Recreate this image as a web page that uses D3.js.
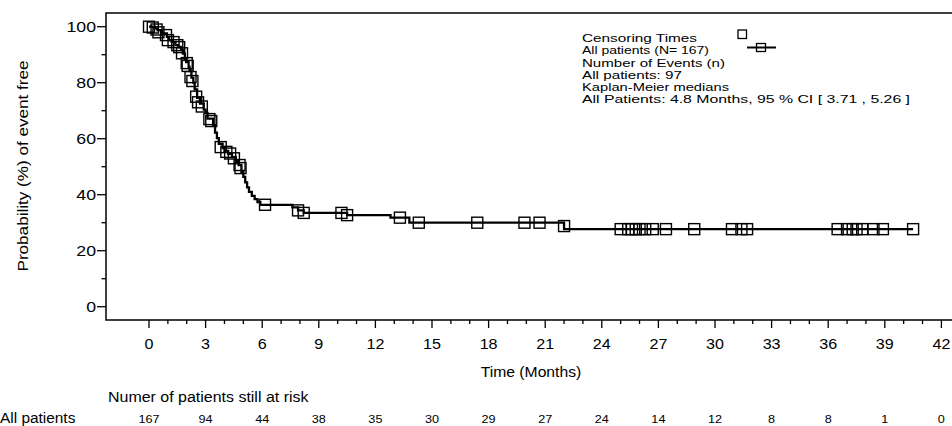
<!DOCTYPE html>
<html>
<head>
<meta charset="utf-8">
<style>
  body { margin: 0; background: #fff; }
  svg { display: block; font-family: Arial, 'Liberation Sans', sans-serif; }
</style>
</head>
<body>
<svg width="952" height="426"></svg>
<script src="https://d3js.org/d3.v7.min.js"></script>
<script>
// KM steps: [time in months, % event free after the drop]
const kmSteps = [
  [0, 100], [0.3, 99.4], [0.45, 98.8], [0.7, 97.6], [0.95, 96.4], [1.05, 95.2],
  [1.2, 94.6], [1.4, 93.4], [1.55, 92.8], [1.7, 91.6], [1.8, 90.4], [1.9, 88.6],
  [1.97, 87.4], [2.1, 85.6], [2.15, 84.4], [2.25, 81.8], [2.35, 80.0], [2.42, 77.6],
  [2.55, 74.6], [2.7, 72.5], [2.9, 70.4], [3.0, 69.2], [3.1, 67.2], [3.4, 64.8],
  [3.5, 62.2], [3.6, 60.2], [3.7, 58.2], [3.9, 56.6], [4.0, 55.6], [4.2, 54.6],
  [4.4, 53.4], [4.6, 52.0], [4.75, 50.6], [4.9, 48.2], [5.0, 46.4], [5.1, 44.4],
  [5.2, 42.6], [5.3, 41.0], [5.45, 39.6], [5.6, 38.4], [5.75, 37.4], [5.9, 36.4],
  [7.6, 35.5], [7.9, 34.4], [8.2, 33.5], [10.5, 32.7], [12.8, 31.8], [13.8, 30.0],
  [22.0, 27.7], [40.5, 27.7]
];

// censored patients: [time, %]
const censored = [
  [0, 100], [0.2, 99.7], [0.4, 99.0], [0.5, 98.0], [0.9, 97.0], [1.0, 95.2],
  [1.3, 94.5], [1.5, 93.4], [1.6, 92.7], [1.75, 90.5], [2.0, 87.0], [2.05, 86.0],
  [2.2, 82.0], [2.3, 80.6], [2.5, 75.0], [2.6, 73.0], [2.8, 71.5], [3.2, 67.0],
  [3.3, 66.3], [3.8, 57.0], [4.1, 55.3], [4.3, 54.7], [4.5, 53.0], [4.8, 50.6],
  [4.85, 49.5], [6.15, 36.4], [7.9, 34.4], [8.2, 33.5], [10.2, 33.5], [10.5, 32.7],
  [13.3, 31.8], [14.3, 30.0], [17.4, 30.0], [19.9, 30.0], [20.7, 30.0], [22.0, 28.8],
  [25.0, 27.7], [25.4, 27.7], [25.6, 27.7], [25.8, 27.7], [26.0, 27.7], [26.3, 27.7],
  [26.7, 27.7], [27.4, 27.7], [28.9, 27.7], [30.9, 27.7], [31.4, 27.7], [31.7, 27.7],
  [36.5, 27.7], [37.0, 27.7], [37.3, 27.7], [37.5, 27.7], [37.8, 27.7], [38.4, 27.7],
  [38.9, 27.7], [40.5, 27.7]
];

const xTicks = d3.range(0, 43, 3);
const xMinor = d3.range(0, 43, 1);
const yTicks = [0, 20, 40, 60, 80, 100];
const yMinor = d3.range(0, 101, 10);
const atRisk = [167, 94, 44, 38, 35, 30, 29, 27, 24, 14, 12, 8, 8, 1, 0];

const legendLines = [
  "Censoring Times",
  "All patients (N= 167)",
  "Number of Events (n)",
  "All patients: 97",
  "Kaplan-Meier medians",
  "All Patients: 4.8 Months, 95 % CI [ 3.71 , 5.26 ]"
];
const legendWidths = [115, 127, 143, 100, 147, 328];

const svg = d3.select("svg");

const x = d3.scaleLinear().domain([0, 42]).range([149, 941.4]);
const y = d3.scaleLinear().domain([0, 100]).range([306.7, 26.7]);

const plotLeft = 106, plotTop = 13, plotBottom = 320, plotRight = 952;

// frame
svg.append("path")
  .attr("d", `M${plotRight},${plotTop}H${plotLeft}V${plotBottom}H${plotRight}`)
  .attr("fill", "none")
  .attr("stroke", "#000")
  .attr("stroke-width", 1.5);

// y axis ticks
svg.selectAll(".ymin").data(yMinor).join("line")
  .attr("x1", plotLeft).attr("x2", d => yTicks.includes(d) ? plotLeft - 9 : plotLeft - 4.5)
  .attr("y1", d => y(d)).attr("y2", d => y(d))
  .attr("stroke", "#000").attr("stroke-width", 1.3);

svg.selectAll(".ylab").data(yTicks).join("text")
  .attr("class", "stretch")
  .attr("data-s", 1.18)
  .attr("x", plotLeft - 10).attr("y", d => y(d) + 5.3)
  .attr("text-anchor", "end")
  .attr("font-size", 15)
  .text(d => d);

// x axis ticks
svg.selectAll(".xmin").data(xMinor).join("line")
  .attr("x1", d => x(d)).attr("x2", d => x(d))
  .attr("y1", plotBottom).attr("y2", d => d % 3 === 0 ? plotBottom + 8 : plotBottom + 4)
  .attr("stroke", "#000").attr("stroke-width", 1.3);

svg.selectAll(".xlab").data(xTicks).join("text")
  .attr("class", "stretch")
  .attr("data-s", 1.15)
  .attr("x", d => x(d)).attr("y", 349)
  .attr("text-anchor", "middle")
  .attr("font-size", 14)
  .text(d => d);

svg.append("text")
  .attr("class", "stretch").attr("data-s", 1.12)
  .attr("x", 531).attr("y", 377)
  .attr("text-anchor", "middle")
  .attr("font-size", 14)
  .text("Time (Months)");

svg.append("text")
  .attr("class", "stretch").attr("data-s", 1.14)
  .attr("transform", "translate(28,166) rotate(-90)")
  .attr("text-anchor", "middle")
  .attr("font-size", 15)
  .text("Probability (%) of event free");

// KM curve
const line = d3.line()
  .x(d => x(d[0]))
  .y(d => y(d[1]))
  .curve(d3.curveStepAfter);

svg.append("path")
  .datum(kmSteps)
  .attr("d", line)
  .attr("fill", "none")
  .attr("stroke", "#000")
  .attr("stroke-width", 2.3);

// censor marks
svg.selectAll(".cens").data(censored).join("rect")
  .attr("x", d => x(d[0]) - 5.5)
  .attr("y", d => y(d[1]) - 5.5)
  .attr("width", 11).attr("height", 11)
  .attr("fill", "none")
  .attr("stroke", "#000")
  .attr("stroke-width", 1.4);

// legend
svg.selectAll(".leg").data(legendLines).join("text")
  .attr("class", "fit")
  .attr("data-w", (d, i) => legendWidths[i])
  .attr("x", 582)
  .attr("y", (d, i) => [42, 54, 67, 79, 91, 103][i])
  .attr("font-size", 11.5)
  .text(d => d);

svg.append("rect")
  .attr("x", 738).attr("y", 30).attr("width", 8.5).attr("height", 8.5)
  .attr("fill", "none").attr("stroke", "#000").attr("stroke-width", 1.3);
svg.append("line")
  .attr("x1", 747).attr("x2", 776).attr("y1", 47.5).attr("y2", 47.5)
  .attr("stroke", "#000").attr("stroke-width", 2);
svg.append("rect")
  .attr("x", 756.5).attr("y", 43.5).attr("width", 9).attr("height", 8)
  .attr("fill", "none").attr("stroke", "#000").attr("stroke-width", 1.3);

// number at risk
svg.append("text")
  .attr("class", "stretch").attr("data-s", 1.14)
  .attr("x", 108).attr("y", 402)
  .attr("font-size", 14)
  .text("Numer of patients still at risk");

svg.append("text")
  .attr("class", "stretch").attr("data-s", 1.1)
  .attr("x", 0).attr("y", 423)
  .attr("font-size", 14)
  .text("All patients");

svg.selectAll(".risk").data(atRisk).join("text")
  .attr("class", "stretch").attr("data-s", 1.1)
  .attr("x", (d, i) => x(xTicks[i]))
  .attr("y", 423)
  .attr("text-anchor", "middle")
  .attr("font-size", 11.5)
  .text(d => d);

// widen the text a bit, the original glyphs are stretched horizontally
svg.selectAll("text.stretch").each(function () {
  const len = this.getComputedTextLength();
  d3.select(this).attr("textLength", len * (+this.getAttribute("data-s")))
    .attr("lengthAdjust", "spacingAndGlyphs");
});
svg.selectAll("text.fit").each(function () {
  d3.select(this).attr("textLength", this.getAttribute("data-w"))
    .attr("lengthAdjust", "spacingAndGlyphs");
});
</script>
</body>
</html>
